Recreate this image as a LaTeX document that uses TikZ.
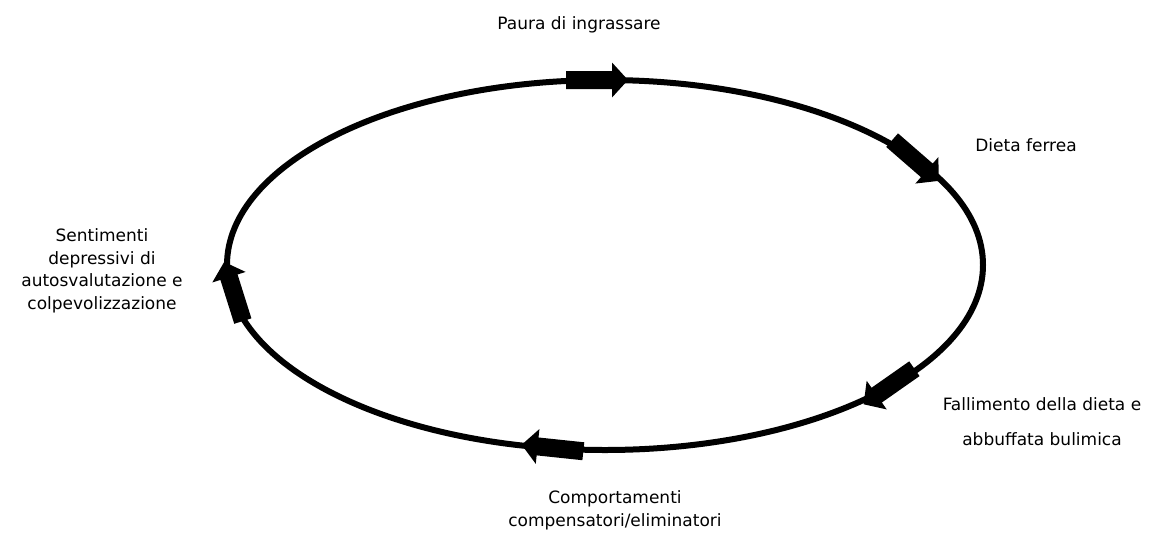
\documentclass[tikz,border=0pt]{standalone}
\usepackage{fontspec}
\setmainfont{DejaVu Sans}
\usetikzlibrary{shapes.geometric}
\begin{document}
\begin{tikzpicture}[x=1pt,y=1pt,
  cyc/.style={ellipse, draw=black, line width=6pt, minimum width=756pt, minimum height=370pt, inner sep=0pt},
  blkarrow/.pic={\fill[black] (-31,-9) -- (15,-9) -- (15,-17.5) -- (31,0) -- (15,17.5) -- (15,9) -- (-31,9) -- cycle;},
  lbl/.style={font=\fontsize{17}{22.5}\selectfont, align=center, inner sep=0pt}]
\useasboundingbox (0,0) rectangle (1157,-539);
\node[cyc] (oval) at (605,-265) {};
\pic[rotate=0] (a1) at (597,-80) {blkarrow};
\pic[rotate=-41] (a2) at (915.5,-160.5) {blkarrow};
\pic[rotate=215] (a3) at (889,-386.5) {blkarrow};
\pic[rotate=174] (a4) at (552.5,-448) {blkarrow};
\pic[rotate=107.5] (a5) at (233.5,-291.5) {blkarrow};
\node[lbl] (l1) at (579,-25) {Paura di ingrassare};
\node[lbl] (l2) at (1026,-145) {Dieta ferrea};
\node[lbl, font=\fontsize{17}{35}\selectfont] (l3) at (1042,-422) {Fallimento della dieta e\\abbuffata bulimica};
\node[lbl, font=\fontsize{17}{23}\selectfont] (l4) at (615,-510) {Comportamenti\\compensatori/eliminatori};
\node[lbl] (l5) at (102,-271) {Sentimenti\\depressivi di\\autosvalutazione e\\colpevolizzazione};
\end{tikzpicture}
\end{document}
